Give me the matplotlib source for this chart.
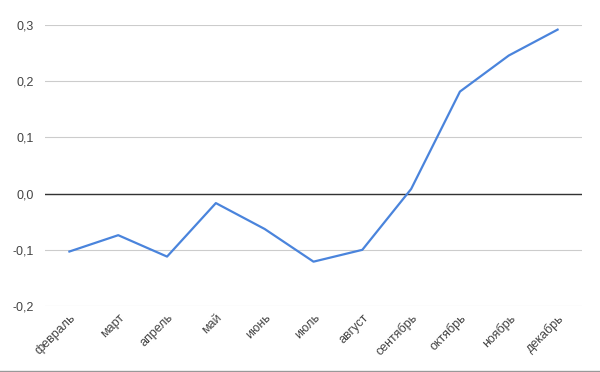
import matplotlib
matplotlib.use('Agg')
import matplotlib.pyplot as plt
from matplotlib.lines import Line2D
from matplotlib.ticker import FuncFormatter

# данные
months = ['февраль', 'март', 'апрель', 'май', 'июнь', 'июль',
          'август', 'сентябрь', 'октябрь', 'ноябрь', 'декабрь']
values = [-0.103, -0.074, -0.112, -0.017, -0.063, -0.121,
          -0.100, 0.008, 0.181, 0.245, 0.291]
y_ticks = [-0.2, -0.1, 0.0, 0.1, 0.2, 0.3]

plt.rcParams['font.family'] = ['Liberation Sans', 'DejaVu Sans']

fig = plt.figure(figsize=(6, 3.72), dpi=100)
ax = fig.add_axes([0.075, 0.177, 0.895, 0.757])

x = list(range(len(months)))
ax.plot(x, values, color='#4a84dc', linewidth=1.6, zorder=3)

ax.set_xlim(-0.5, len(months) - 0.5)
ax.set_ylim(-0.2, 0.3)
ax.set_yticks(y_ticks)
ax.yaxis.set_major_formatter(FuncFormatter(lambda v, p: f'{v:.1f}'.replace('.', ',')))
ax.grid(axis='y', color='#cccccc', linewidth=0.8)
ax.axhline(0, color='#333333', linewidth=1.0, zorder=2)

ax.set_xticks(x)
ax.set_xticklabels(months, rotation=45, ha='right', rotation_mode='anchor')
ax.tick_params(axis='both', length=0, labelsize=9, colors='#444444')
ax.tick_params(axis='x', pad=4)
ax.tick_params(axis='y', pad=8)
for lbl in ax.get_xticklabels():
    lbl.set_x(lbl.get_position()[0])

for s in ax.spines.values():
    s.set_visible(False)

# нижняя рамка
fig.add_artist(Line2D([0, 1], [0.004, 0.004], transform=fig.transFigure,
                      color='#999999', linewidth=1.0))

fig.savefig('out.png', dpi=100)
